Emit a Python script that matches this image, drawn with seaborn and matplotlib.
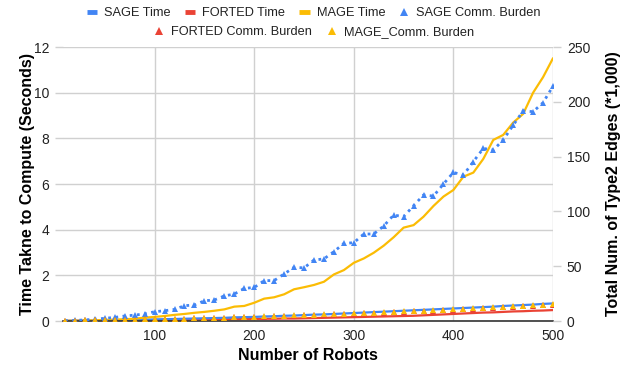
import matplotlib

matplotlib.use("Agg")
import matplotlib.pyplot as plt
from matplotlib.lines import Line2D
import numpy as np
import pandas as pd
import seaborn as sns

ROBOTS = list(range(10, 501, 10))

# left axis (seconds)
SAGE_TIME = [0.01, 0.01, 0.02, 0.02, 0.03, 0.04, 0.04, 0.05, 0.06, 0.07,
             0.08, 0.09, 0.10, 0.11, 0.12, 0.13, 0.14, 0.16, 0.17, 0.18,
             0.20, 0.21, 0.23, 0.24, 0.26, 0.28, 0.29, 0.31, 0.33, 0.35,
             0.37, 0.39, 0.41, 0.43, 0.45, 0.47, 0.49, 0.51, 0.53, 0.55,
             0.57, 0.59, 0.61, 0.63, 0.66, 0.68, 0.70, 0.72, 0.75, 0.77]
FORTED_TIME = [0.00, 0.01, 0.01, 0.01, 0.02, 0.02, 0.03, 0.03, 0.04, 0.04,
               0.05, 0.05, 0.06, 0.06, 0.07, 0.07, 0.08, 0.08, 0.09, 0.09,
               0.10, 0.10, 0.11, 0.11, 0.12, 0.13, 0.14, 0.15, 0.16, 0.17,
               0.18, 0.19, 0.20, 0.21, 0.22, 0.23, 0.25, 0.27, 0.29, 0.31,
               0.33, 0.35, 0.37, 0.38, 0.40, 0.42, 0.43, 0.45, 0.46, 0.48]
MAGE_TIME = [0.01, 0.01, 0.02, 0.03, 0.05, 0.06, 0.08, 0.10, 0.15, 0.18,
             0.22, 0.27, 0.31, 0.36, 0.40, 0.45, 0.51, 0.63, 0.66, 0.80,
             0.98, 1.04, 1.17, 1.39, 1.48, 1.58, 1.72, 2.04, 2.23, 2.55,
             2.74, 2.99, 3.30, 3.67, 4.09, 4.20, 4.57, 5.04, 5.45, 5.74,
             6.32, 6.50, 7.10, 7.93, 8.15, 8.69, 9.07, 10.00, 10.68, 11.51]

# right axis (type2 edges, thousands)
SAGE_COMM = [0.4, 0.6, 1.0, 1.7, 2.5, 3.3, 4.6, 5.4, 6.5, 8.5,
             9.4, 10.6, 14.0, 14.6, 18.5, 19.2, 22.9, 24.6, 29.8, 30.6,
             36.9, 36.9, 42.9, 49.0, 48.5, 55.6, 56.7, 63.3, 70.8, 71.5,
             79.4, 79.4, 86.7, 96.7, 95.2, 105.2, 115.0, 114.0, 125.0, 135.6,
             133.1, 145.4, 157.5, 156.0, 165.2, 178.7, 191.7, 191.0, 199.2, 214.4]
FORTED_COMM = [0.3, 0.4, 0.5, 0.6, 0.7, 0.9, 1.0, 1.2, 1.4, 1.6,
               1.8, 2.0, 2.2, 2.4, 2.6, 2.8, 3.0, 3.3, 3.5, 3.8,
               4.1, 4.3, 4.6, 4.8, 5.1, 5.4, 5.7, 6.1, 6.4, 6.7,
               7.0, 7.3, 7.7, 8.1, 8.5, 8.8, 9.2, 9.5, 9.9, 10.4,
               10.8, 11.2, 11.6, 12.0, 12.5, 12.9, 13.4, 13.8, 14.3, 14.8]
MAGE_COMM = [0.3, 0.4, 0.5, 0.6, 0.8, 1.0, 1.1, 1.3, 1.5, 1.7,
             1.9, 2.1, 2.3, 2.5, 2.8, 3.0, 3.2, 3.5, 3.7, 4.0,
             4.3, 4.5, 4.8, 5.1, 5.4, 5.7, 6.0, 6.4, 6.7, 7.0,
             7.4, 7.7, 8.1, 8.5, 8.9, 9.2, 9.6, 10.0, 10.4, 10.9,
             11.3, 11.7, 12.2, 12.6, 13.1, 13.5, 14.0, 14.5, 15.0, 15.5]

BLUE = "#4285F4"
RED = "#EA4335"
ORANGE = "#FBBC04"
GRID = "#d0d0d0"
TEXT = "#222222"

sns.set_theme(style="white")
plt.rcParams["font.family"] = ["Liberation Sans", "DejaVu Sans"]

df = pd.DataFrame({
    "robots": ROBOTS,
    "sage_time": SAGE_TIME,
    "forted_time": FORTED_TIME,
    "mage_time": MAGE_TIME,
    "sage_comm": SAGE_COMM,
    "forted_comm": FORTED_COMM,
    "mage_comm": MAGE_COMM,
})

fig = plt.figure(figsize=(6.28, 3.69), dpi=100)
ax = fig.add_axes([0.1003, 0.130, 0.7803, 0.7426])
ax2 = ax.twinx()

# left axis lines
sns.lineplot(data=df, x="robots", y="forted_time", color=RED, linewidth=1.6, ax=ax)
sns.lineplot(data=df, x="robots", y="sage_time", color=BLUE, linewidth=1.6, ax=ax)
sns.lineplot(data=df, x="robots", y="mage_time", color=ORANGE, linewidth=1.6, ax=ax)

# right axis burdens
sns.lineplot(data=df, x="robots", y="sage_comm", color=BLUE, linewidth=2.0,
             linestyle=(0, (1, 1.6)), marker="^", markersize=4.2,
             markeredgewidth=0, ax=ax2)
sns.lineplot(data=df, x="robots", y="forted_comm", color=RED, linestyle="none",
             marker="^", markersize=4.2, markeredgewidth=0, ax=ax2)
sns.lineplot(data=df, x="robots", y="mage_comm", color=ORANGE, linestyle="none",
             marker="^", markersize=4.2, markeredgewidth=0, ax=ax2)

ax.set_xlim(8, 500)
ax.set_ylim(0, 12)
ax2.set_ylim(0, 250)
ax.set_xticks([100, 200, 300, 400, 500])
ax.set_yticks(np.arange(0, 13, 2))
ax2.set_yticks(np.arange(0, 251, 50))

ax.grid(True, color=GRID, linewidth=1)
ax2.grid(False)
ax.set_axisbelow(True)
for a in (ax, ax2):
    for s in ("top", "left", "right", "bottom"):
        a.spines[s].set_visible(False)
ax.spines["bottom"].set_visible(True)
ax.spines["bottom"].set_color("#333333")
ax.spines["bottom"].set_linewidth(1.2)

ax.tick_params(axis="y", length=6, color=GRID, width=1, labelsize=10, labelcolor=TEXT, pad=4)
ax2.tick_params(axis="y", length=6, color=GRID, width=1, labelsize=10, labelcolor=TEXT, pad=4)
ax.tick_params(axis="x", length=0, labelsize=10, labelcolor=TEXT, pad=6)

ax.set_xlabel("Number of Robots", fontsize=11.5, fontweight="bold", color="black", labelpad=3)
ax.set_ylabel("Time Takne to Compute (Seconds)", fontsize=11.5, fontweight="bold", color="black", labelpad=-1)
ax2.set_ylabel("Total Num. of Type2 Edges (*1,000)", fontsize=11.5, fontweight="bold", color="black", labelpad=11)

row1 = [
    Line2D([], [], color=BLUE, linewidth=3.5, solid_capstyle="butt"),
    Line2D([], [], color=RED, linewidth=3.5, solid_capstyle="butt"),
    Line2D([], [], color=ORANGE, linewidth=3.5, solid_capstyle="butt"),
    Line2D([], [], color=BLUE, linestyle="none", marker="^", markersize=6, markeredgewidth=0),
]
row2 = [
    Line2D([], [], color=RED, linestyle="none", marker="^", markersize=6, markeredgewidth=0),
    Line2D([], [], color=ORANGE, linestyle="none", marker="^", markersize=6, markeredgewidth=0),
]
leg_kw = dict(frameon=False, fontsize=9.2, handlelength=0.8, handletextpad=0.55,
              columnspacing=1.1, borderaxespad=0, labelcolor=TEXT)
leg1 = fig.legend(row1, ["SAGE Time", "FORTED Time", "MAGE Time", "SAGE Comm. Burden"],
                  loc="center", bbox_to_anchor=(0.5, 1 - 13 / 369), ncol=4, **leg_kw)
leg2 = fig.legend(row2, ["FORTED Comm. Burden", "MAGE_Comm. Burden"],
                  loc="center", bbox_to_anchor=(0.5, 1 - 32 / 369), ncol=2, **leg_kw)

fig.savefig("out.png", dpi=100)
